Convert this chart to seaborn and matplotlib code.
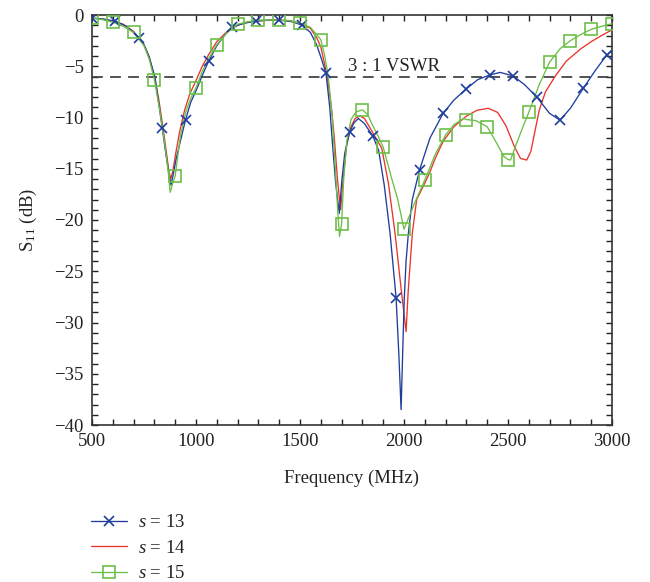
import numpy as np
import pandas as pd
import seaborn as sns
import matplotlib
matplotlib.use("Agg")
import matplotlib.pyplot as plt
from matplotlib.lines import Line2D

# ---------------- data ----------------
f13 = [500, 555, 612, 665, 700, 725, 750, 775, 803, 820, 838, 852, 866, 880, 892, 905, 925, 950,
       975, 1000, 1030, 1062, 1100, 1140, 1175, 1230, 1288, 1350, 1400, 1460, 1512, 1550, 1580,
       1605, 1625, 1643, 1657, 1672, 1689, 1700, 1715, 1738, 1760, 1781, 1810, 1850, 1878, 1905,
       1933, 1962, 1975, 1986, 1995, 2001, 2010, 2021, 2040, 2075, 2125, 2188, 2240, 2300, 2355,
       2412, 2462, 2525, 2580, 2638, 2700, 2750, 2800, 2862, 2920, 2975, 3000]
db13 = [-0.3, -0.4, -0.6, -1.1, -1.7, -2.2, -2.9, -4.1, -6.1, -8.5, -11.05, -13.1, -15.0, -16.6,
        -15.4, -14.0, -12.3, -10.2, -8.5, -7.4, -5.9, -4.45, -3.0, -1.9, -1.2, -0.8, -0.6, -0.5,
        -0.5, -0.65, -1.0, -1.7, -2.9, -4.4, -5.7, -9.0, -12.8, -16.5, -19.35, -16.4, -13.5,
        -11.45, -10.5, -10.1, -10.6, -11.8, -13.2, -16.6, -21.3, -27.6, -33.0, -38.5, -32.0,
        -27.8, -24.0, -21.3, -18.0, -15.1, -12.0, -9.6, -8.3, -7.2, -6.3, -5.85, -5.6, -5.95,
        -6.8, -8.0, -9.6, -10.25, -9.1, -7.15, -5.4, -3.9, -3.5]

f14 = [500, 550, 600, 650, 700, 750, 775, 800, 820, 840, 855, 868, 878, 888, 900, 920, 945, 970,
       1000, 1030, 1060, 1100, 1150, 1200, 1250, 1300, 1400, 1450, 1500, 1550, 1580, 1600, 1631,
       1650, 1665, 1680, 1695, 1710, 1725, 1745, 1765, 1788, 1810, 1845, 1870, 1893, 1925, 1957,
       1985, 2010, 2020, 2040, 2061, 2100, 2125, 2150, 2189, 2240, 2298, 2350, 2405, 2450, 2490,
       2530, 2560, 2590, 2610, 2630, 2650, 2680, 2726, 2780, 2850, 2900, 2950, 3000]
db14 = [-0.3, -0.4, -0.6, -0.9, -1.6, -2.9, -4.1, -6.0, -8.1, -10.8, -13.0, -15.0, -16.0, -15.3,
        -13.8, -11.5, -9.3, -7.7, -6.4, -5.0, -3.9, -2.6, -1.6, -1.0, -0.7, -0.55, -0.5, -0.55,
        -0.8, -1.3, -2.2, -3.1, -6.0, -8.8, -12.0, -16.0, -19.0, -15.5, -12.6, -10.9, -10.1,
        -9.85, -10.1, -11.3, -12.2, -13.0, -16.4, -21.3, -26.5, -30.9, -27.0, -21.3, -18.0,
        -16.4, -15.3, -14.0, -12.3, -10.9, -9.9, -9.3, -9.1, -9.5, -10.8, -12.8, -14.0, -14.15,
        -13.3, -11.3, -9.3, -7.5, -6.0, -4.5, -3.3, -2.6, -2.0, -1.45]

f15 = [500, 550, 600, 650, 700, 750, 775, 800, 825, 850, 865, 876, 888, 900, 925, 950, 975, 1000,
       1030, 1060, 1100, 1150, 1200, 1250, 1300, 1400, 1450, 1500, 1550, 1600, 1618, 1636, 1655,
       1670, 1681, 1690, 1700, 1710, 1725, 1745, 1770, 1800, 1825, 1850, 1875, 1900, 1940, 1970,
       2000, 2050, 2100, 2150, 2200, 2240, 2285, 2300, 2345, 2400, 2440, 2480, 2500, 2512, 2540,
       2570, 2600, 2650, 2700, 2750, 2800, 2850, 2900, 2950, 3000]
db15 = [-0.3, -0.45, -0.7, -1.1, -1.7, -3.0, -4.3, -6.3, -9.2, -12.6, -15.0, -17.3, -16.4, -15.7,
        -11.8, -9.5, -8.1, -7.1, -5.5, -4.3, -2.9, -1.7, -0.9, -0.65, -0.5, -0.5, -0.55, -0.8,
        -1.2, -2.4, -3.9, -6.0, -10.0, -15.0, -19.0, -21.6, -20.4, -16.0, -12.3, -10.2, -9.45,
        -9.25, -9.7, -10.8, -11.8, -12.9, -15.9, -18.0, -20.9, -18.4, -16.1, -13.6, -11.7, -10.7,
        -10.1, -10.2, -10.3, -10.9, -12.3, -13.8, -14.1, -14.15, -12.6, -11.0, -9.5, -6.8, -4.6,
        -3.3, -2.5, -1.9, -1.4, -1.1, -0.85]

# marker positions
mark13_f = [500, 612, 725, 838, 950, 1062, 1175, 1288, 1400, 1512, 1625, 1738, 1850, 1962, 2075,
            2188, 2300, 2412, 2525, 2638, 2750, 2862, 2975]
mark13_db = [-0.3, -0.6, -2.2, -11.05, -10.2, -4.45, -1.2, -0.6, -0.5, -1.0, -5.7, -11.45, -11.8,
             -27.6, -15.1, -9.6, -7.2, -5.85, -5.95, -8.0, -10.25, -7.15, -3.9]
mark15_f = [500, 600, 700, 800, 900, 1000, 1100, 1200, 1300, 1400, 1500, 1600, 1700, 1800, 1900,
            2000, 2100, 2200, 2300, 2400, 2500, 2600, 2700, 2800, 2900, 3000]
mark15_db = [-0.3, -0.7, -1.7, -6.3, -15.7, -7.1, -2.9, -0.9, -0.5, -0.5, -0.8, -2.4, -20.4,
             -9.25, -12.9, -20.9, -16.1, -11.7, -10.2, -10.9, -14.1, -9.5, -4.6, -2.5, -1.4, -0.85]

series_labels = ["$s$ = 13", "$s$ = 14", "$s$ = 15"]
vswr_level = -6.02
vswr_label = "3 : 1 VSWR"
x_ticks = [500, 1000, 1500, 2000, 2500, 3000]
y_ticks = [0, -5, -10, -15, -20, -25, -30, -35, -40]

# ---------------- style ----------------
sns.set_style("ticks")
plt.rcParams["font.family"] = ["Liberation Serif", "DejaVu Serif"]
plt.rcParams["mathtext.fontset"] = "custom"
plt.rcParams["mathtext.rm"] = "Liberation Serif"
plt.rcParams["mathtext.it"] = "Liberation Serif:italic"
plt.rcParams["axes.unicode_minus"] = True

c13 = "#1f3d9c"
c14 = "#e8352c"
c15 = "#6cbf47"
lw = 0.95

fig = plt.figure(figsize=(6.5, 5.82), dpi=100)
ax = fig.add_axes([92 / 650, 1 - 425 / 582, 520 / 650, 410 / 582])

sns.lineplot(x=f13, y=db13, ax=ax, color=c13, lw=lw, sort=False, estimator=None, zorder=3)
sns.lineplot(x=f14, y=db14, ax=ax, color=c14, lw=lw, sort=False, estimator=None, zorder=2)
sns.lineplot(x=f15, y=db15, ax=ax, color=c15, lw=lw, sort=False, estimator=None, zorder=4)

sns.lineplot(x=mark13_f, y=mark13_db, ax=ax, color=c13, linestyle="", marker="x",
             markersize=7, markeredgewidth=1.2, markeredgecolor=c13, markerfacecolor=c13,
             sort=False, estimator=None, zorder=5)
sns.lineplot(x=mark15_f, y=mark15_db, ax=ax, color=c15, linestyle="", marker="s",
             markersize=8.5, markerfacecolor="none", markeredgecolor=c15,
             markeredgewidth=1.2, sort=False, estimator=None, zorder=6)

ax.axhline(vswr_level, color="#444444", lw=1.3, ls=(0, (6, 4)), zorder=1)
ax.text(1730, -5.45, vswr_label, fontsize=13.5, color="#222222", va="baseline", ha="left")

ax.set_xlim(500, 3000)
ax.set_ylim(-40, 0)
ax.set_xticks(x_ticks)
ax.set_yticks(y_ticks)
ax.set_xticks(np.arange(500, 3001, 100), minor=True)
ax.set_yticks(np.arange(-40, 1, 1), minor=True)
ax.tick_params(which="both", direction="in", top=True, right=True, length=4.5,
               width=1.0, color="#222222", labelsize=13.5, labelcolor="#222222")
ax.tick_params(axis="y", which="major", pad=6)
ax.tick_params(axis="x", which="major", pad=6)
for sp in ax.spines.values():
    sp.set_linewidth(1.2)
    sp.set_color("#333333")
    sp.set_visible(True)

ax.set_xlabel("Frequency (MHz)", fontsize=13.5, color="#222222", labelpad=14)
ax.set_ylabel("S$_{11}$ (dB)", fontsize=13.5, color="#222222", labelpad=11)

handles = [
    Line2D([], [], color=c13, lw=lw, marker="x", markersize=7, markeredgewidth=1.2),
    Line2D([], [], color=c14, lw=lw),
    Line2D([], [], color=c15, lw=lw, marker="s", markersize=8.5, markerfacecolor="none",
           markeredgecolor=c15, markeredgewidth=1.2),
]
fig.legend(handles, series_labels, loc="upper left",
           bbox_to_anchor=(91 / 650, 1 - 514 / 582), frameon=False, fontsize=13.5,
           handlelength=1.9, handletextpad=0.6, labelspacing=0.45, borderpad=0,
           borderaxespad=0, labelcolor="#222222")

fig.savefig("out.png", dpi=100)
